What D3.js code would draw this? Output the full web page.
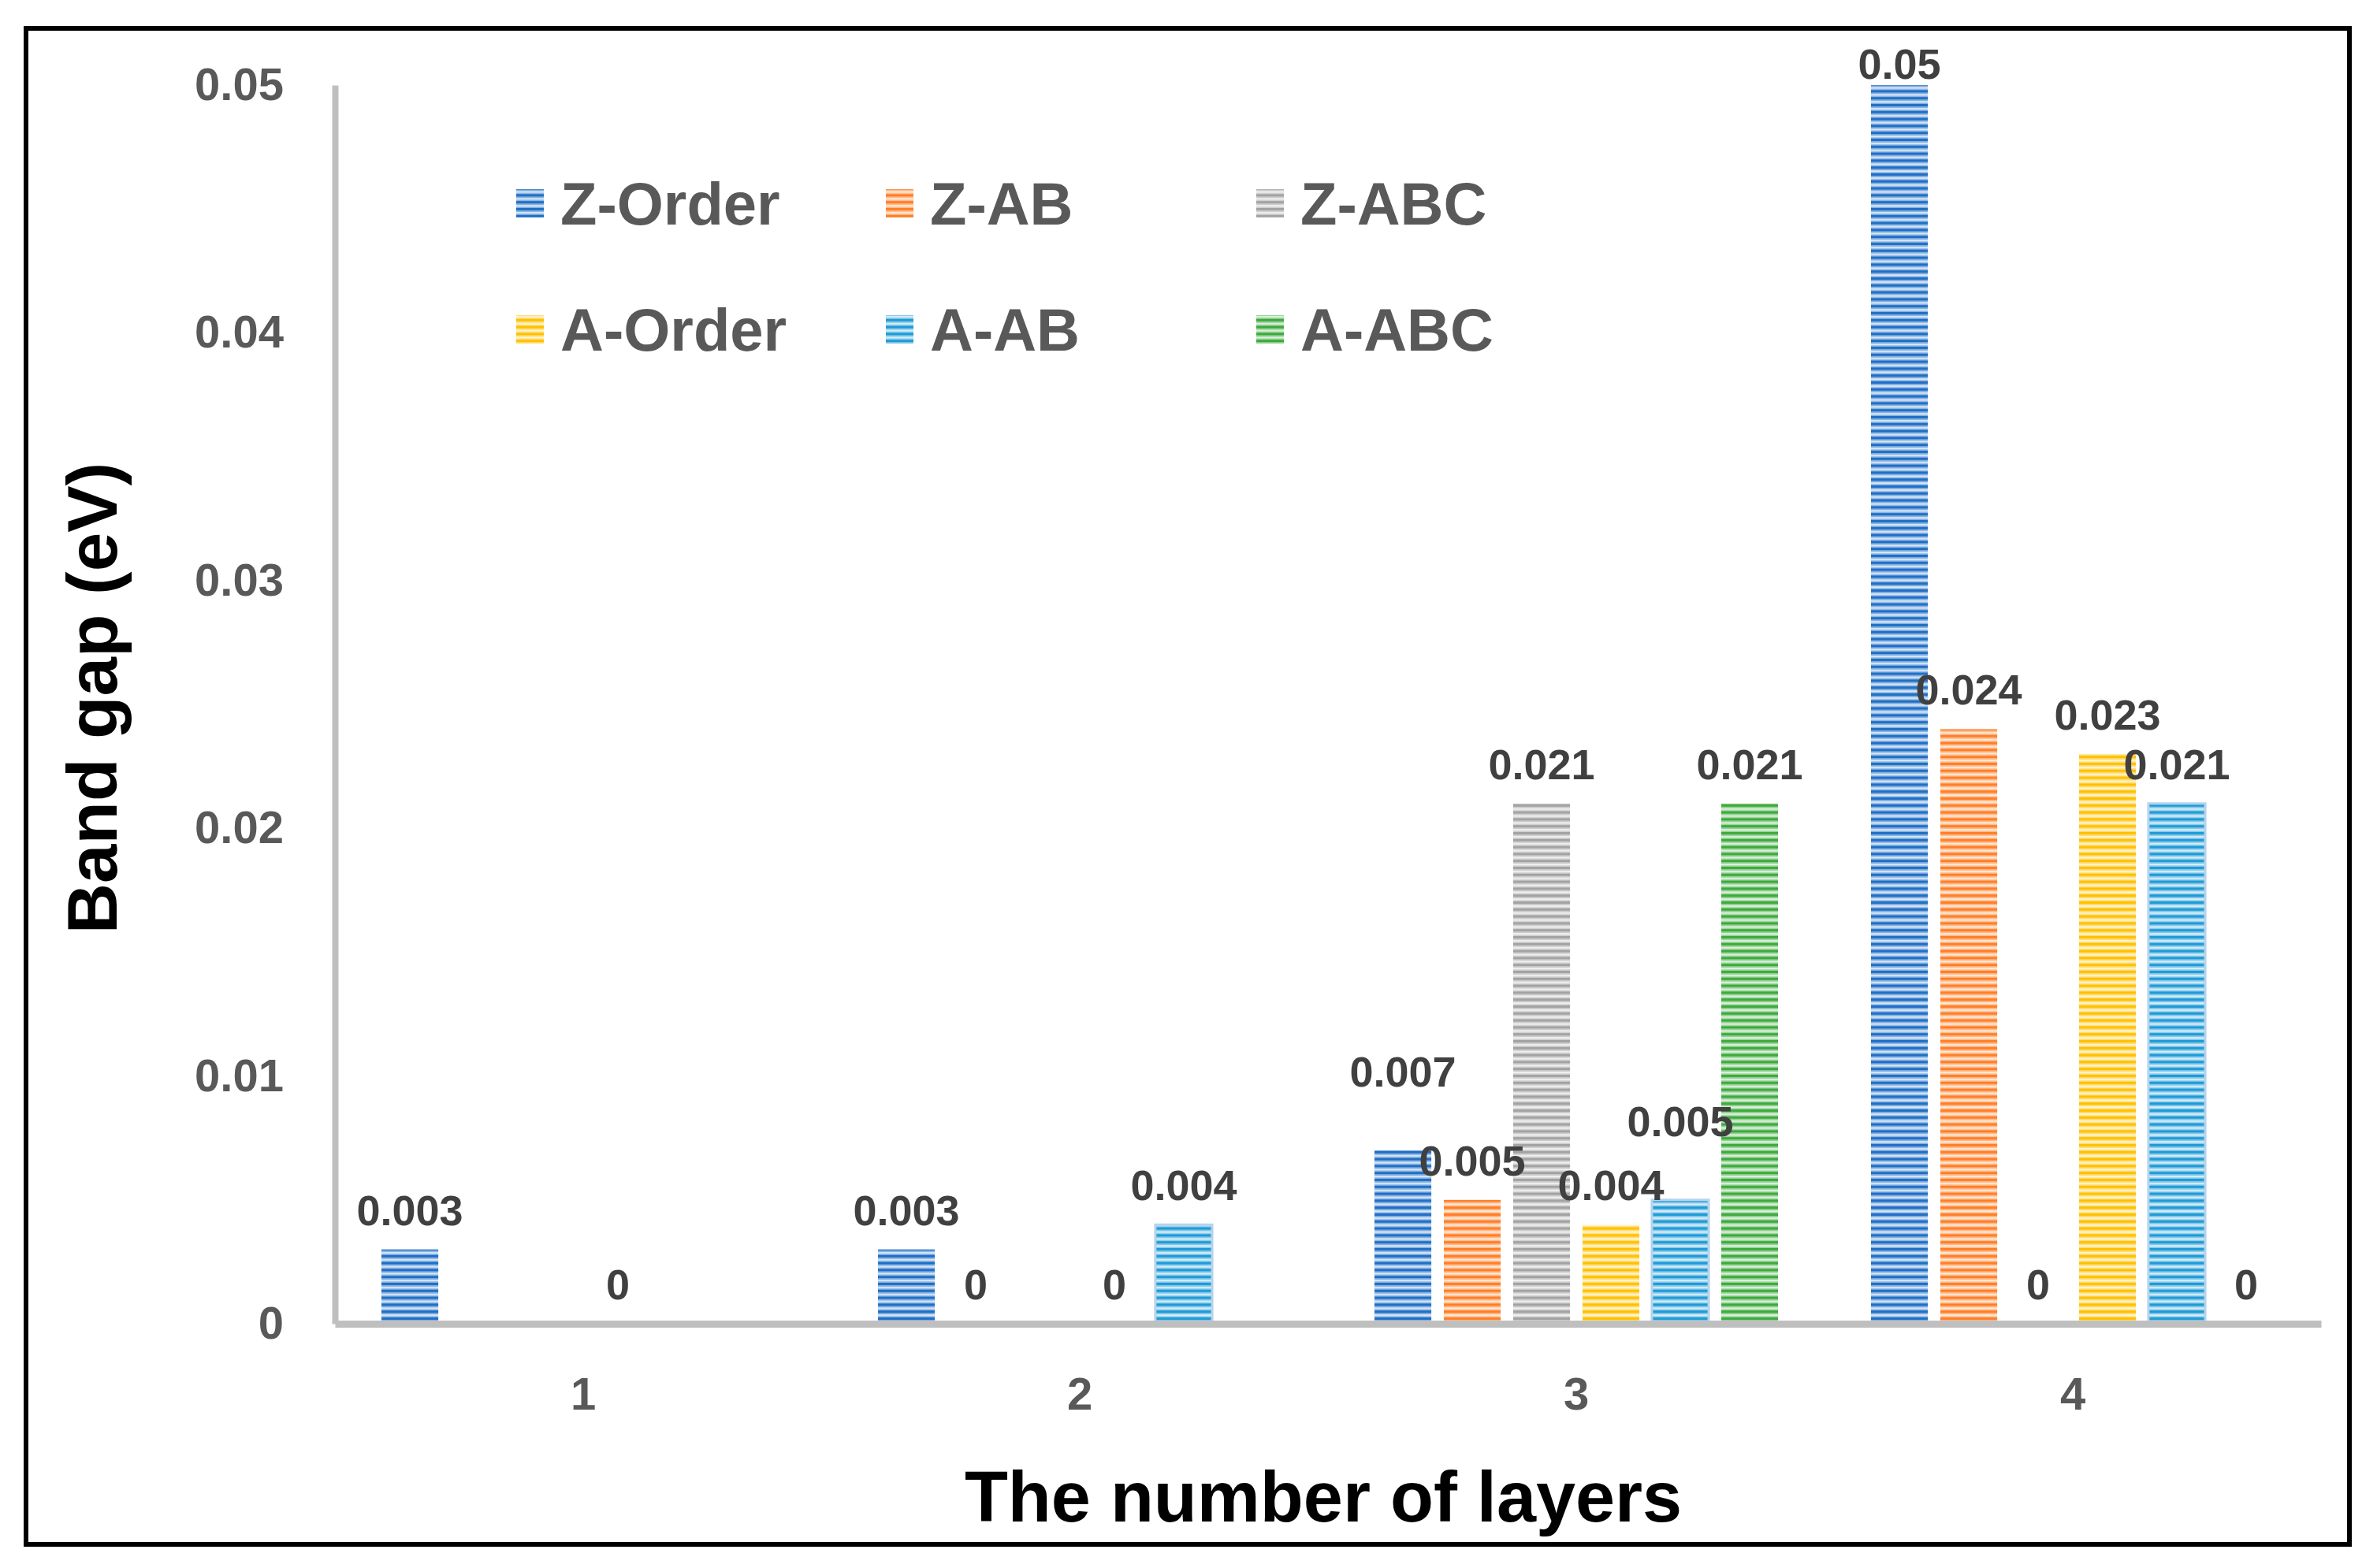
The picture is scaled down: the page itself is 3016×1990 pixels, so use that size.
<!DOCTYPE html>
<html>
<meta charset=utf-8>
<head>
  <style>
    body { margin: 0; background: #fff; }
    text { font-family: "Liberation Sans", Arial, sans-serif; font-weight: bold; }
  </style>
</head>
<body>
<svg id="canvas" width="3016" height="1990"></svg>
<script src="https://d3js.org/d3.v7.min.js"></script>
<script>

// data (null = bar not present)
var layers = [1, 2, 3, 4];
var series = ['Z-Order', 'Z-AB', 'Z-ABC', 'A-Order', 'A-AB', 'A-ABC'];
var zOrder = [0.003, 0.003, 0.007, 0.05];
var zAB    = [null,  0,     0.005, 0.024];
var zABC   = [null,  null,  0.021, 0];
var aOrder = [0,     0,     0.004, 0.023];
var aAB    = [null,  0.004, 0.005, 0.021];
var aABC   = [null,  null,  0.021, 0];
var yTicks = [0, 0.01, 0.02, 0.03, 0.04, 0.05];
var yTickLabels = ['0', '0.01', '0.02', '0.03', '0.04', '0.05'];

var values = [zOrder, zAB, zABC, aOrder, aAB, aABC];
var colors = ['#1f6fc6', '#ff7f27', '#a3a3a3', '#ffc000', '#1e9bd7', '#3daa3d'];

var svg = d3.select('#canvas');

// frame
svg.append('rect')
  .attr('x', 33).attr('y', 36)
  .attr('width', 2948).attr('height', 1924)
  .attr('fill', 'none').attr('stroke', '#000').attr('stroke-width', 6);

// stripe patterns
var defs = svg.append('defs');
series.forEach(function(s, i) {
  var p = defs.append('pattern')
    .attr('id', 'pat' + i)
    .attr('patternUnits', 'userSpaceOnUse')
    .attr('width', 20).attr('height', 8.8);
  p.append('rect').attr('width', 20).attr('height', 8.8).attr('fill', colors[i]).attr('opacity', 0.55);
  p.append('rect').attr('width', 20).attr('height', 3).attr('fill', colors[i]);
  p.append('rect').attr('y', 5).attr('width', 20).attr('height', 2.2).attr('fill', '#fff').attr('opacity', 0.7);
});

var plotLeft = 425, plotRight = 2945, plotTop = 108, plotBottom = 1680;

var x0 = d3.scaleBand().domain(layers).range([plotLeft, plotRight]).padding(0);
var x1 = d3.scaleBand().domain(series).range([0, x0.bandwidth()])
  .paddingInner(0.18).paddingOuter(0.67);
var y = d3.scaleLinear().domain([0, 0.05]).range([plotBottom, plotTop]);

// bars
var rows = [];
layers.forEach(function(l, li) {
  series.forEach(function(s, si) {
    var v = values[si][li];
    if (v !== null) rows.push({layer: l, series: s, si: si, value: v});
  });
});

svg.append('g').selectAll('rect')
  .data(rows.filter(function(d) { return d.value > 0; }))
  .enter().append('rect')
  .attr('x', function(d) { return x0(d.layer) + x1(d.series); })
  .attr('y', function(d) { return y(d.value); })
  .attr('width', x1.bandwidth())
  .attr('height', function(d) { return y(0) - y(d.value); })
  .attr('fill', function(d) { return 'url(#pat' + d.si + ')'; })
  .attr('stroke', function(d) { return d.series === 'A-AB' ? '#b5d3ee' : 'none'; })
  .attr('stroke-width', 3);

// axes
var yAxis = svg.append('g')
  .attr('transform', 'translate(' + plotLeft + ',0)')
  .call(d3.axisLeft(y).tickValues(yTicks).tickSize(0).tickPadding(65)
    .tickFormat(function(d, i) { return yTickLabels[i]; }));
yAxis.select('.domain').attr('stroke', '#bfbfbf').attr('stroke-width', 8);
yAxis.selectAll('text').attr('font-size', 58).attr('fill', '#595959')
  .attr('font-family', '"Liberation Sans", Arial, sans-serif');

var xAxis = svg.append('g')
  .attr('transform', 'translate(0,' + plotBottom + ')')
  .call(d3.axisBottom(x0).tickSize(0).tickPadding(68));
xAxis.select('.domain').attr('stroke', '#bfbfbf').attr('stroke-width', 9);
xAxis.selectAll('text').attr('font-size', 58).attr('fill', '#595959')
  .attr('font-family', '"Liberation Sans", Arial, sans-serif');

// value labels (two labels in layer 3 were lifted in the original)
var lifted = {'3|Z-Order': 1, '3|A-AB': 1};
svg.append('g').selectAll('text')
  .data(rows)
  .enter().append('text')
  .attr('x', function(d) { return x0(d.layer) + x1(d.series) + x1.bandwidth() / 2; })
  .attr('y', function(d) {
    var b = y(d.value) - 31;
    if (lifted[d.layer + '|' + d.series]) b -= 50;
    return Math.max(b, plotTop - 8);
  })
  .attr('text-anchor', 'middle')
  .attr('font-size', 54)
  .attr('fill', '#404040')
  .text(function(d) { return String(d.value); });

// legend
var legend = svg.append('g');
var colX = [655, 1124, 1594], rowY = [258, 418];
series.forEach(function(s, i) {
  var gx = colX[i % 3], gy = rowY[Math.floor(i / 3)];
  legend.append('rect')
    .attr('x', gx).attr('y', gy - 18)
    .attr('width', 35).attr('height', 36)
    .attr('fill', 'url(#pat' + i + ')');
  legend.append('text')
    .attr('x', gx + 56).attr('y', gy)
    .attr('dy', '0.36em')
    .attr('font-size', 76)
    .attr('fill', '#595959')
    .text(s);
});

// axis titles
svg.append('text')
  .attr('x', 1679).attr('y', 1931)
  .attr('text-anchor', 'middle')
  .attr('font-size', 90)
  .attr('fill', '#000')
  .text('The number of layers');

svg.append('text')
  .attr('transform', 'translate(148,886) rotate(-90)')
  .attr('text-anchor', 'middle')
  .attr('font-size', 89)
  .attr('fill', '#000')
  .text('Band gap (eV)');

</script>
</body>
</html>
